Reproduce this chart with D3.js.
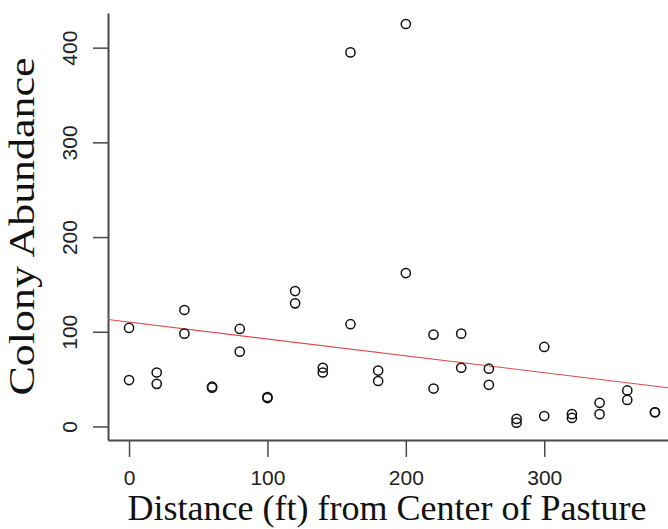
<!DOCTYPE html>
<html>
<head>
<meta charset="utf-8">
<script src="https://cdn.jsdelivr.net/npm/d3@7"></script>
<style>
  body { margin: 0; background: #fff; }
  svg { display: block; }
</style>
</head>
<body>
<svg id="chart"></svg>
<script>
// distance from pasture centre (ft) and counted colonies, two samples per distance
const distance = [0, 0, 20, 20, 40, 40, 60, 60, 80, 80, 100, 100, 120, 120, 140, 140,
                  160, 160, 180, 180, 200, 200, 220, 220, 240, 240, 260, 260, 280, 280,
                  300, 300, 320, 320, 340, 340, 360, 360, 380, 380]
const abundance = [104, 49, 57, 45, 123, 98, 42, 41, 103, 79, 31, 30, 143, 130, 62, 57,
                   395, 108, 59, 48, 425, 162, 97, 40, 98, 62, 61, 44, 8, 4,
                   84, 11, 13, 9, 25, 13, 38, 28, 15, 15]
const xTicks = [0, 100, 200, 300]
const yTicks = [0, 100, 200, 300, 400]

const svgWidth = 668, svgHeight = 529
const plot = { left: 108, right: 676, top: 13, bottom: 440 }

const data = distance.map((d, i) => ({ x: d, y: abundance[i] }))

// least squares fit, like abline(lm(...)) in R
const mx = d3.mean(data, d => d.x), my = d3.mean(data, d => d.y)
const slope = d3.sum(data, d => (d.x - mx) * (d.y - my)) / d3.sum(data, d => (d.x - mx) ** 2)
const intercept = my - slope * mx

const svg = d3.select("#chart")
  .attr("width", svgWidth)
  .attr("height", svgHeight)

const xs = d3.scaleLinear().domain([-15.2, 395.2]).range([plot.left, plot.right])
const ys = d3.scaleLinear().domain([-14.3, 436.6]).range([plot.bottom, plot.top])

svg.append("clipPath").attr("id", "clip")
  .append("rect")
  .attr("x", plot.left).attr("y", plot.top)
  .attr("width", plot.right - plot.left).attr("height", plot.bottom - plot.top)

// x axis
const gx = svg.append("g")
  .attr("transform", `translate(0,${plot.bottom})`)
  .call(d3.axisBottom(xs).tickValues(xTicks).tickSize(17).tickPadding(13).tickSizeOuter(0))
gx.select(".domain").attr("stroke", "#4a4a4a").attr("stroke-width", 2)
gx.selectAll(".tick line").attr("stroke", "#4a4a4a").attr("stroke-width", 1.5)
gx.selectAll(".tick text")
  .attr("font-family", "Liberation Sans, Arial, sans-serif")
  .attr("font-size", 21)
  .attr("fill", "#222")

// y axis, labels turned like R's default las=0
const gy = svg.append("g")
  .attr("transform", `translate(${plot.left},0)`)
  .call(d3.axisLeft(ys).tickValues(yTicks).tickSize(15).tickSizeOuter(0))
gy.select(".domain").attr("stroke", "#4a4a4a").attr("stroke-width", 2)
gy.selectAll(".tick line").attr("stroke", "#4a4a4a").attr("stroke-width", 1.5)
gy.selectAll(".tick text")
  .attr("font-family", "Liberation Sans, Arial, sans-serif")
  .attr("font-size", 21)
  .attr("fill", "#222")
  .attr("x", 0).attr("y", 0).attr("dy", 0)
  .attr("text-anchor", "middle")
  .attr("transform", "translate(-31,0) rotate(-90)")

// fitted line
svg.append("line")
  .attr("clip-path", "url(#clip)")
  .attr("x1", xs(xs.domain()[0])).attr("y1", ys(intercept + slope * xs.domain()[0]))
  .attr("x2", xs(xs.domain()[1])).attr("y2", ys(intercept + slope * xs.domain()[1]))
  .attr("stroke", "#e0474c")
  .attr("stroke-width", 1.2)

// points
svg.append("g")
  .selectAll("circle")
  .data(data)
  .join("circle")
  .attr("cx", d => xs(d.x))
  .attr("cy", d => ys(d.y))
  .attr("r", 4.6)
  .attr("fill", "none")
  .attr("stroke", "#111")
  .attr("stroke-width", 1.5)

// axis titles
svg.append("text")
  .attr("x", 387)
  .attr("y", 520)
  .attr("text-anchor", "middle")
  .attr("font-family", "Liberation Serif, Times New Roman, serif")
  .attr("font-size", 36)
  .attr("fill", "#111")
  .text("Distance (ft) from Center of Pasture")

svg.append("text")
  .attr("transform", `translate(34,${(plot.top + plot.bottom) / 2}) rotate(-90)`)
  .attr("text-anchor", "middle")
  .attr("font-family", "Liberation Serif, Times New Roman, serif")
  .attr("font-size", 36)
  .attr("textLength", 338)
  .attr("lengthAdjust", "spacingAndGlyphs")
  .attr("fill", "#111")
  .text("Colony Abundance")
</script>
</body>
</html>
